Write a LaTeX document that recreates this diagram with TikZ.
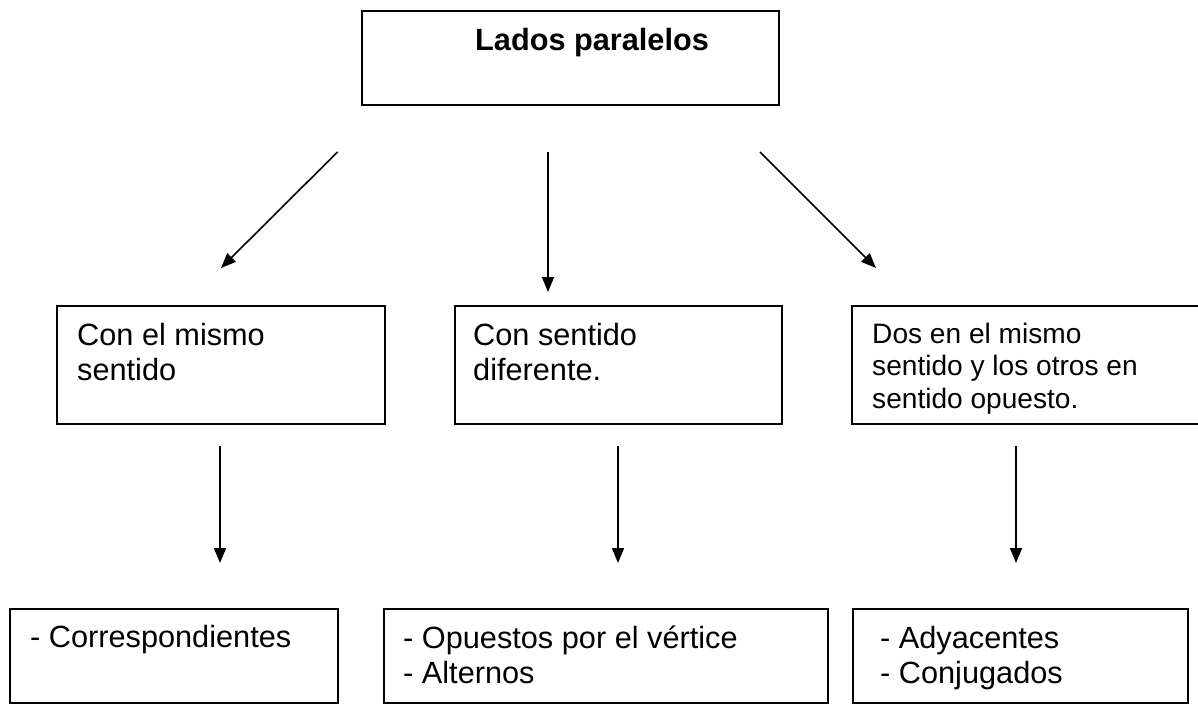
\documentclass[tikz,border=0pt]{standalone}
\usepackage{fontspec}
\setmainfont{Liberation Sans}
\usetikzlibrary{arrows.meta}
\begin{document}
\begin{tikzpicture}[x=1pt,y=-1pt,
  box/.style={draw,line width=1.6pt,rectangle,inner sep=0pt,anchor=north west},
  bigtxt/.style={font=\fontsize{30.7}{35}\selectfont,anchor=base west,inner sep=0pt},
  smalltxt/.style={font=\fontsize{28.1}{32.4}\selectfont,anchor=base west,inner sep=0pt},
  arr/.style={line width=1.6pt,-{Triangle[length=15pt,width=12pt]}}]
\useasboundingbox (0,0) rectangle (1198,720);
% boxes
\node[box,minimum width=417pt,minimum height=94pt] (top) at (361,10) {};
\node[box,minimum width=328pt,minimum height=118pt] (m1) at (56,305) {};
\node[box,minimum width=327pt,minimum height=118pt] (m2) at (454,305) {};
\node[box,minimum width=360pt,minimum height=118pt] (m3) at (851,305) {};
\node[box,minimum width=328pt,minimum height=94pt] (b1) at (9,608) {};
\node[box,minimum width=444pt,minimum height=94pt] (b2) at (383,608) {};
\node[box,minimum width=335pt,minimum height=94pt] (b3) at (852,608) {};
% texts
\node[bigtxt,font=\fontsize{30.7}{35}\selectfont\bfseries] (ttop) at (475,50) {Lados paralelos};
\node[bigtxt] (tm1a) at (77,345) {Con el mismo};
\node[bigtxt] (tm1b) at (77,380) {sentido};
\node[bigtxt] (tm2a) at (473,345) {Con sentido};
\node[bigtxt] (tm2b) at (473,380) {diferente.};
\node[smalltxt] (tm3a) at (872,343) {Dos en el mismo};
\node[smalltxt] (tm3b) at (872,375.5) {sentido y los otros en};
\node[smalltxt] (tm3c) at (872,408) {sentido opuesto.};
\node[bigtxt] (tb1) at (30,647) {- Correspondientes};
\node[bigtxt] (tb2a) at (403,648) {- Opuestos por el vértice};
\node[bigtxt] (tb2b) at (403,683) {- Alternos};
\node[bigtxt] (tb3a) at (880,648) {- Adyacentes};
\node[bigtxt] (tb3b) at (880,683) {- Conjugados};
% arrow end points
\coordinate (a1s) at (337.5,152);
\coordinate (a1e) at (221,268);
\coordinate (a2s) at (548,152);
\coordinate (a2e) at (548,292);
\coordinate (a3s) at (760,152);
\coordinate (a3e) at (876,268);
\coordinate (d1s) at (220,446);
\coordinate (d1e) at (220,563);
\coordinate (d2s) at (618,446);
\coordinate (d2e) at (618,563);
\coordinate (d3s) at (1016,446);
\coordinate (d3e) at (1016,563);
\draw[arr] (a1s) -- (a1e);
\draw[arr] (a2s) -- (a2e);
\draw[arr] (a3s) -- (a3e);
\draw[arr] (d1s) -- (d1e);
\draw[arr] (d2s) -- (d2e);
\draw[arr] (d3s) -- (d3e);
\end{tikzpicture}
\end{document}
